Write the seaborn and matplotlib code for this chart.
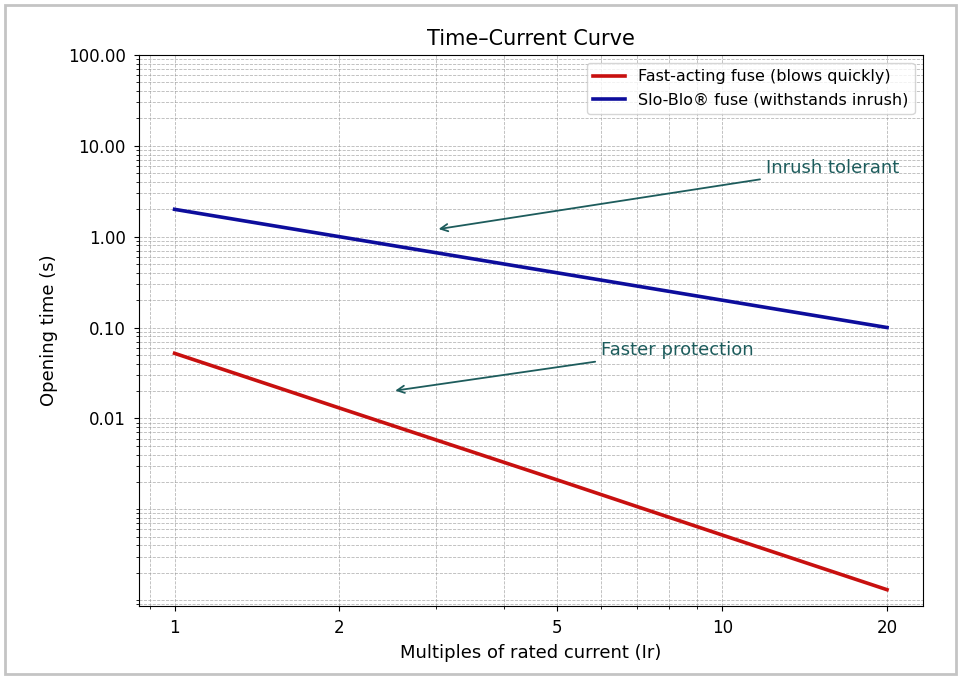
import numpy as np
import matplotlib
matplotlib.use("Agg")
from matplotlib import pyplot as plt
from matplotlib import ticker
from matplotlib.patches import Rectangle
import seaborn as sns

# data (multiples of rated current vs opening time)
multiples = [1, 2, 5, 10, 20]
fast_acting = [0.052, 0.013, 0.0021, 0.00052, 0.00013]
slo_blo = [2.0, 1.0, 0.4, 0.2, 0.1]

x_ticks = [1, 2, 5, 10, 20]
y_ticks = [0.01, 0.1, 1, 10, 100]

plt.rcParams['font.family'] = ['DejaVu Sans']

fig = plt.figure(figsize=(9.61, 6.79), dpi=100)
ax = fig.add_axes([0.1446, 0.1075, 0.8155, 0.8115])

sns.lineplot(x=multiples, y=fast_acting, color='#c8100f', linewidth=2.6,
             label='Fast-acting fuse (blows quickly)', ax=ax)
sns.lineplot(x=multiples, y=slo_blo, color='#0d0d9c', linewidth=2.6,
             label='Slo-Blo® fuse (withstands inrush)', ax=ax)

ax.set_xscale('log')
ax.set_yscale('log')
ax.set_ylim(8.6e-5, 100)

ax.set_xticks(x_ticks)
ax.xaxis.set_major_formatter(ticker.FuncFormatter(lambda v, p: '%g' % v))
ax.xaxis.set_minor_locator(ticker.LogLocator(base=10, subs=np.arange(2, 10)))
ax.xaxis.set_minor_formatter(ticker.NullFormatter())

ax.set_yticks(y_ticks)
ax.yaxis.set_major_formatter(ticker.FormatStrFormatter('%.2f'))
ax.yaxis.set_minor_locator(ticker.LogLocator(base=10, subs=np.arange(1, 10), numticks=20))
ax.yaxis.set_minor_formatter(ticker.NullFormatter())

ax.tick_params(axis='both', which='major', labelsize=12, pad=6)
ax.grid(True, which='both', linestyle='--', color='#999999', linewidth=0.6, alpha=0.7)

ax.set_title('Time–Current Curve', fontsize=15, pad=7)
ax.set_xlabel('Multiples of rated current (Ir)', fontsize=13, labelpad=5)
ax.set_ylabel('Opening time (s)', fontsize=13, labelpad=7)

teal = '#1d5c5c'
ax.annotate('Inrush tolerant', xy=(3, 1.2), xytext=(12, 5), color=teal, fontsize=13,
            arrowprops=dict(arrowstyle='->', color=teal, lw=1.3))
ax.annotate('Faster protection', xy=(2.5, 0.02), xytext=(6, 0.05), color=teal, fontsize=13,
            arrowprops=dict(arrowstyle='->', color=teal, lw=1.3))

ax.legend(loc='upper right', fontsize=11.5)

# outer frame of the screenshot
fig.patches.append(Rectangle((0.005, 0.007), 0.99, 0.986, transform=fig.transFigure,
                             fill=False, edgecolor='#c4c4c4', linewidth=2))

plt.savefig('out.png', dpi=100)
